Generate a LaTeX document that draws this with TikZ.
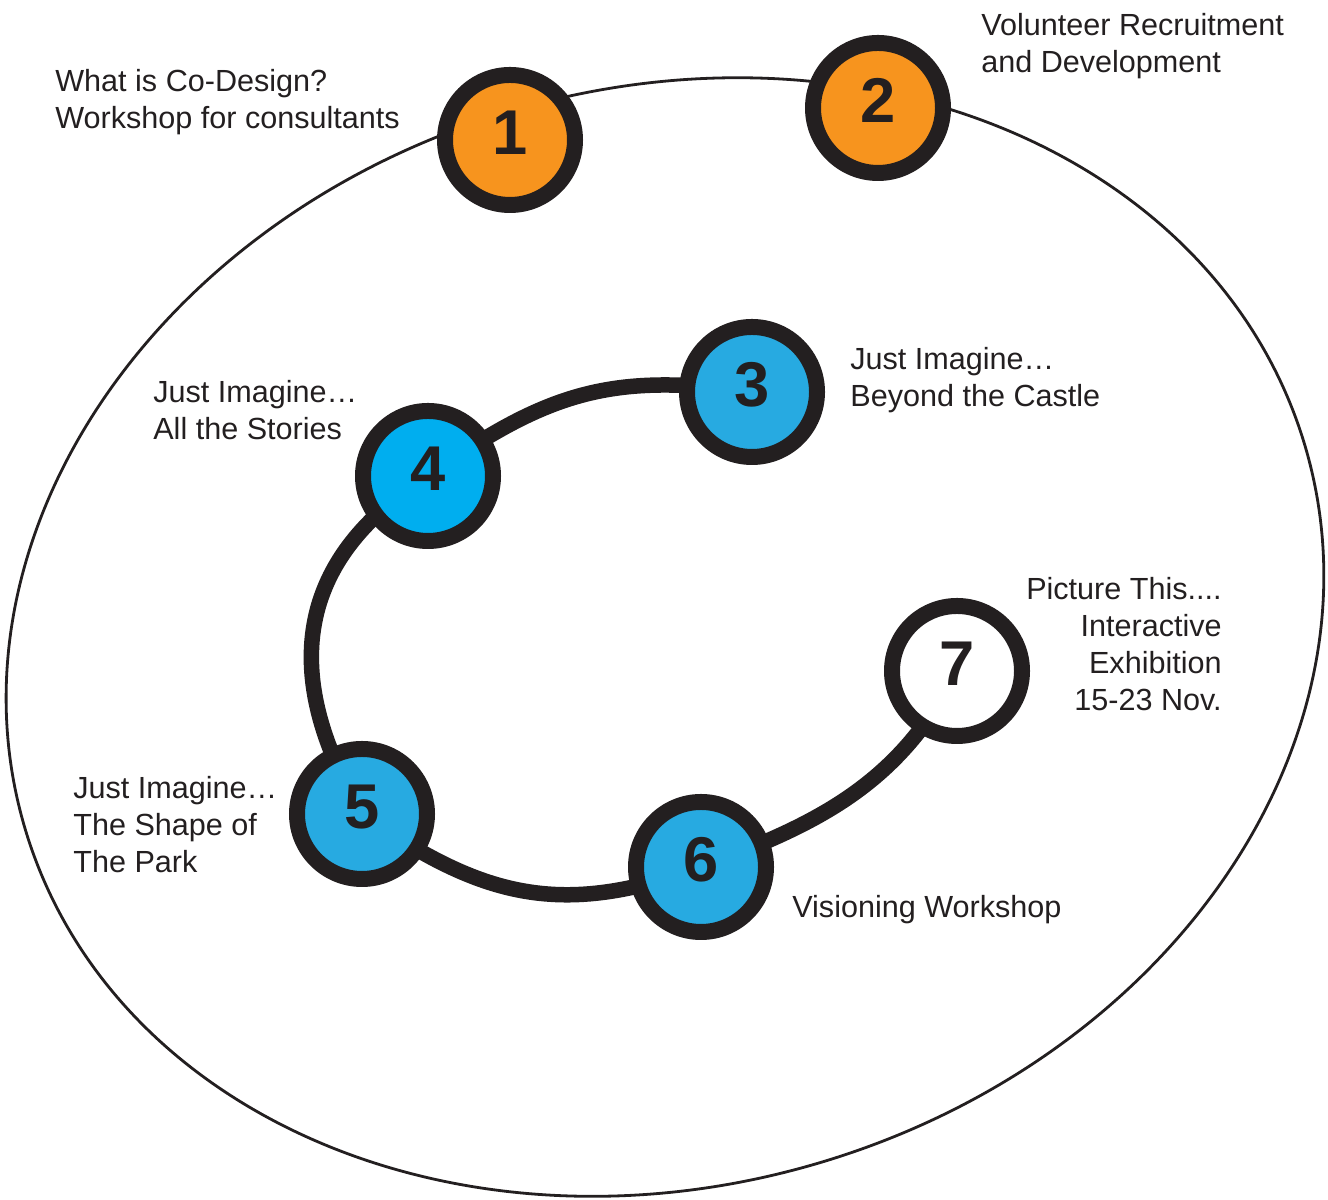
\documentclass[tikz,border=0pt]{standalone}
\usepackage{fontspec}
\setmainfont{Liberation Sans}
\usepackage{xcolor}
\usetikzlibrary{backgrounds}

\definecolor{stageorange}{HTML}{F7941E}
\definecolor{stageblue}{HTML}{27AAE1}
\definecolor{stagecyan}{HTML}{00AEEF}
\definecolor{inkblack}{HTML}{231F20}

\begin{document}
\begin{tikzpicture}[
		x=0.2mm, y=0.2mm,
		stage/.style={
			circle,
			draw=inkblack,
			line width=3.2mm,
			minimum size=26mm,
			inner sep=0pt,
			text=inkblack,
			font=\fontsize{36}{36}\selectfont\bfseries,
			text height=26pt,
			text depth=9pt
		},
		caption/.style={
			inner sep=0pt,
			align=left,
			text=inkblack,
			font=\fontsize{17.4}{21}\selectfont
		},
		spiral/.style={draw=inkblack, line width=3.1mm}
	]
		\useasboundingbox (0,0) rectangle (1328,1200);

		% stages
		\node[stage, fill=stageorange] (n1) at (510,1060) {1};
		\node[stage, fill=stageorange] (n2) at (878,1092) {2};
		\node[stage, fill=stageblue] (n3) at (752,808) {3};
		\node[stage, fill=stagecyan] (n4) at (428,724) {4};
		\node[stage, fill=stageblue] (n5) at (362,386) {5};
		\node[stage, fill=stageblue] (n6) at (701,333) {6};
		\node[stage, fill=white] (n7) at (957,529) {7};

		% captions
		\node[caption, anchor=north west] (t1) at (55,1131) {
			What is Co-Design?\\Workshop for consultants
		};
		\node[caption, anchor=north west] (t2) at (981,1187) {
			Volunteer Recruitment\\and Development
		};
		\node[caption, anchor=north west] (t3) at (850,853) {
			Just Imagine…\\Beyond the Castle
		};
		\node[caption, anchor=north west] (t4) at (153,820) {
			Just Imagine…\\All the Stories
		};
		\node[caption, anchor=north west] (t5) at (73,424) {
			Just Imagine…\\The Shape of\\The Park
		};
		\node[caption, anchor=north west] (t6) at (792,305) {
			Visioning Workshop
		};
		\node[caption, anchor=north east, align=right] (t7) at (1222,623) {
			Picture This....\\Interactive\\Exhibition\\15-23 Nov.
		};

		\begin{scope}[on background layer]
			\coordinate (mid) at (665,563);
			\draw[inkblack, line width=0.56mm, rotate around={16.9:(mid)}]
				(mid) ellipse [x radius=133.6mm, y radius=109.6mm];
			\draw[spiral] (n3.center) to[out=172, in=35, looseness=1.1] (n4.center)
				to[out=212, in=120, out distance=42mm, in distance=18mm] (n5.center)
				to[out=325, in=200, looseness=1.1] (n6.center)
				to[out=20, in=243] (n7.center);
		\end{scope}
	\end{tikzpicture}
\end{document}
